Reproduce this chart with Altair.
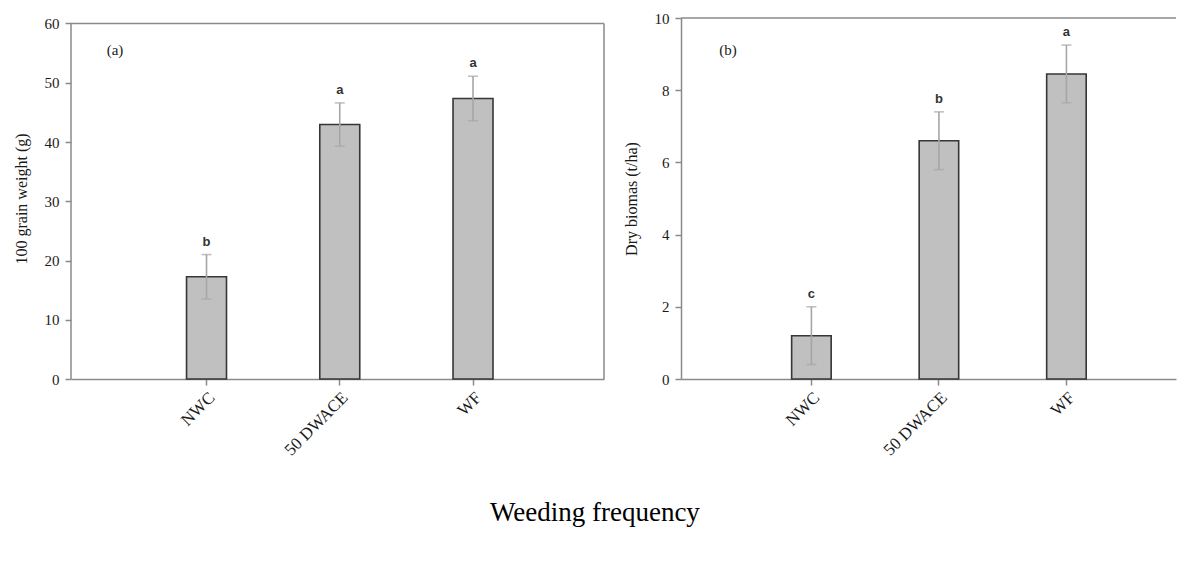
import altair as alt
import pandas as pd

# ---- data ----
treatments = ["NWC", "50 DWACE", "WF"]

grain_mean = [17.25, 42.95, 47.35]
grain_err = [3.75, 3.65, 3.75]
grain_letters = ["b", "a", "a"]

biomass_mean = [1.2, 6.6, 8.45]
biomass_err = [0.8, 0.8, 0.8]
biomass_letters = ["c", "b", "a"]

panel_labels = ["(a)", "(b)"]
y_titles = ["100 grain weight (g)", "Dry biomas (t/ha)"]
x_title = "Weeding frequency"

grain_ticks = [0, 10, 20, 30, 40, 50, 60]
biomass_ticks = [0, 2, 4, 6, 8, 10]

FONT = "Liberation Serif"
AXIS_GRAY = "#8a8a8a"
H = 361


def make_df(means, errs, letters):
    return pd.DataFrame({
        "treatment": treatments,
        "mean": means,
        "lo": [m - e for m, e in zip(means, errs)],
        "hi": [m + e for m, e in zip(means, errs)],
        "letter": letters,
    })


def axis_common(**kw):
    base = dict(
        labelFont=FONT, labelFontSize=15, labelColor="#1a1a1a",
        titleFont=FONT, titleFontSize=16, titleFontWeight="normal", titleColor="#1a1a1a",
        domainColor=AXIS_GRAY, domainWidth=1.5, tickColor=AXIS_GRAY, tickWidth=1.5,
        tickSize=6, grid=False,
    )
    base.update(kw)
    return alt.Axis(**base)


def panel(df, ticks, ymax, top_val, width, x_scale, y_title, label, label_x,
          frame_right, y_domain_line):
    xenc = alt.X(
        "treatment:N", sort=treatments, scale=x_scale,
        axis=axis_common(title=None, labelAngle=315, labelPadding=4, labelFontSize=17),
    )
    yscale = alt.Scale(domain=[0, ymax], nice=False, zero=True)
    yaxis = axis_common(title=y_title, values=ticks, labelPadding=6, titlePadding=15,
                        domain=y_domain_line)
    base = alt.Chart(df).encode(x=xenc)
    bars = base.mark_bar(fill="#c0c0c0", stroke="#363636", strokeWidth=1.6).encode(
        y=alt.Y("mean:Q", scale=yscale, axis=yaxis)
    )
    err = base.mark_rule(color="#a6a6a6", strokeWidth=1.6).encode(
        y=alt.Y("lo:Q"), y2="hi:Q"
    )
    cap_lo = base.mark_tick(color="#a6a6a6", thickness=1.6, size=10).encode(y="lo:Q")
    cap_hi = base.mark_tick(color="#a6a6a6", thickness=1.6, size=10).encode(y="hi:Q")
    letters = base.mark_text(
        font="Liberation Sans", fontSize=13, fontWeight="bold", color="#333333",
        baseline="bottom", dy=-6,
    ).encode(y="hi:Q", text="letter:N")

    one = alt.Chart(pd.DataFrame({"v": [0]}))
    layers = [bars, err, cap_lo, cap_hi, letters]
    top_rule = one.mark_rule(color=AXIS_GRAY, strokeWidth=1.5).encode(
        y=alt.datum(top_val), x=alt.value(0), x2=alt.value(width)
    )
    layers.append(top_rule)
    if frame_right:
        left_rule = one.mark_rule(color=AXIS_GRAY, strokeWidth=1.5).encode(
            x=alt.value(0), y=alt.datum(0), y2=alt.datum(top_val)
        )
        right_rule = one.mark_rule(color=AXIS_GRAY, strokeWidth=1.5).encode(
            x=alt.value(width), y=alt.datum(0), y2=alt.datum(top_val)
        )
        layers += [left_rule, right_rule]
    plabel = one.mark_text(font=FONT, fontSize=15, color="#1a1a1a", align="center",
                           baseline="middle").encode(
        x=alt.value(label_x), y=alt.value(32), text=alt.value(label)
    )
    layers.append(plabel)
    return alt.layer(*layers).properties(width=width, height=H)


grain_df = make_df(grain_mean, grain_err, grain_letters)
biomass_df = make_df(biomass_mean, biomass_err, biomass_letters)

W_A = 533
W_B = 495

chart_a = panel(
    grain_df, grain_ticks, 60 * H / 355.5, 60, W_A,
    alt.Scale(paddingInner=0.70, paddingOuter=0.85, align=0.51),
    y_titles[0], panel_labels[0], 44, True, False,
)
chart_b = panel(
    biomass_df, biomass_ticks, 10, 10, W_B,
    alt.Scale(paddingInner=0.69, paddingOuter=0.786, align=0.552),
    y_titles[1], panel_labels[1], 47, False, True,
)

chart = alt.hconcat(chart_a, chart_b, spacing=18).properties(
    padding={"left": 5, "top": 3, "right": 0, "bottom": 0},
    title=alt.TitleParams(
        x_title, orient="bottom", anchor="middle", font=FONT, fontSize=27,
        fontWeight="normal", color="#000000", offset=42,
    ),
).configure_view(stroke=None).configure_axisX(labelBaseline="top")

chart.save("out.html", embed_options={"renderer": "svg", "actions": False})
